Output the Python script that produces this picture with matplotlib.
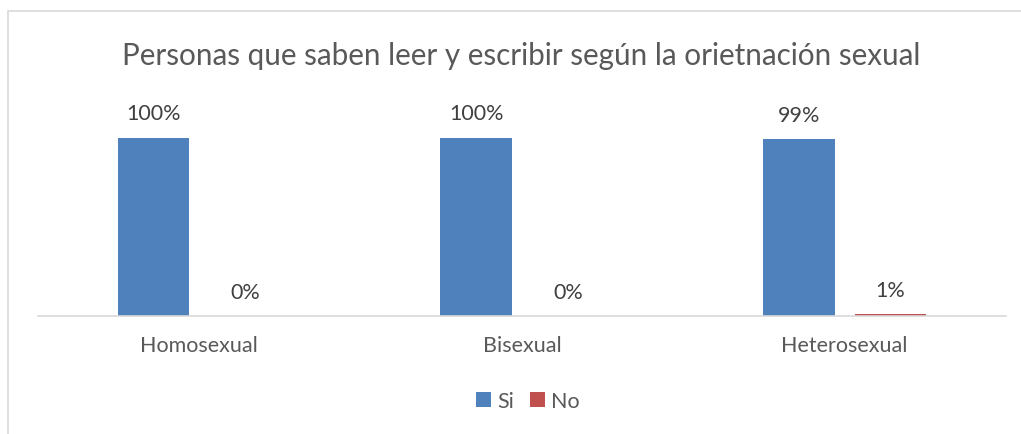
import matplotlib
matplotlib.use("Agg")
import matplotlib.pyplot as plt
from matplotlib.patches import Rectangle
import numpy as np

# datos
categorias = ["Homosexual", "Bisexual", "Heterosexual"]
si = [100, 100, 99]
no = [0, 0, 1]
titulo = "Personas que saben leer y escribir según la orietnación sexual"

azul = "#4F81BD"
rojo = "#C0504D"
gris = "#595959"

plt.rcParams['font.family'] = ['Lato', 'DejaVu Sans']

fig = plt.figure(figsize=(10.21, 4.35), dpi=100)
ax = fig.add_axes([38/1021, 118/435, 968/1021, 214/435])

x = np.arange(len(categorias))
ancho = 0.223
b1 = ax.bar(x - 0.142, si, ancho, color=azul, label="Si")
b2 = ax.bar(x + 0.142, no, ancho, color=rojo, label="No")

for barras, vals in ((b1, si), (b2, no)):
    for b, v in zip(barras, vals):
        ax.text(b.get_x() + b.get_width()/2, v + 8, "%d%%" % v,
                ha='center', va='bottom', fontsize=15.5, color="#404040")

ax.set_xlim(-0.5, 2.5)
ax.set_ylim(0, 120)
ax.set_yticks([])
ax.set_xticks(x)
ax.set_xticklabels(categorias, fontsize=15.5, color=gris)
ax.tick_params(axis='x', length=0, pad=14)
for s in ['top', 'right', 'left']:
    ax.spines[s].set_visible(False)
ax.spines['bottom'].set_color("#D9D9D9")
ax.spines['bottom'].set_linewidth(1.2)

fig.text(521/1021, 1 - 56/435, titulo, ha='center', va='center', fontsize=21.3, color=gris)

leg = fig.legend(loc='center', bbox_to_anchor=(528/1021, 1 - 402/435), ncol=2,
                 frameon=False, fontsize=15.5, handlelength=0.7, handleheight=0.7,
                 handletextpad=0.3, columnspacing=0.7)
for t in leg.get_texts():
    t.set_color(gris)

# borde del area del grafico
fig.patches.append(Rectangle((8/1021, -0.1), 1.2, 1 - 12/435 + 0.1,
                             transform=fig.transFigure, fill=False,
                             edgecolor="#D9D9D9", linewidth=1.2))

fig.savefig("out.png", dpi=100)
